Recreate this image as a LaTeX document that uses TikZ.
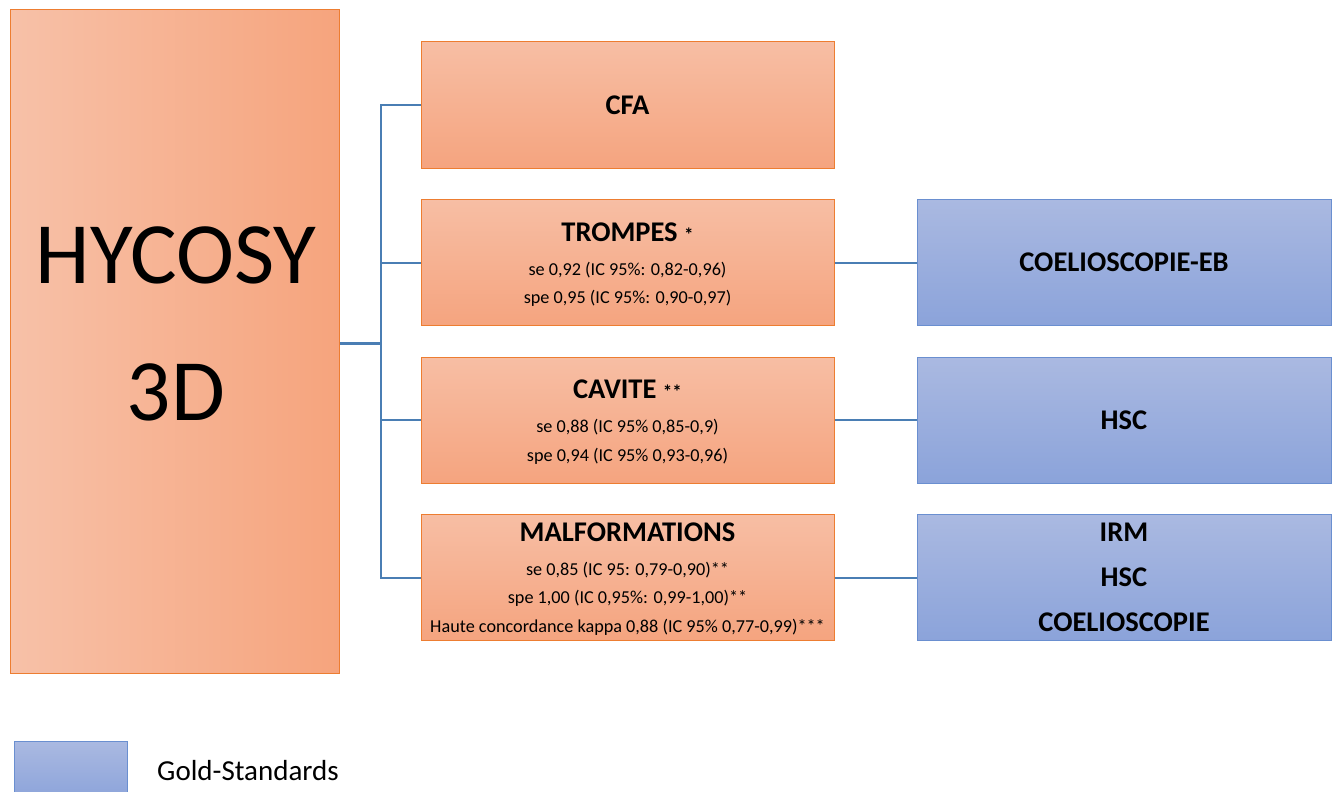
\documentclass[tikz,border=0pt]{standalone}
\usepackage{fontspec}
\setmainfont{Carlito}
\definecolor{oline}{HTML}{ED7D31}
\definecolor{otop}{HTML}{F7BEA4}
\definecolor{obot}{HTML}{F5A47F}
\definecolor{oleft}{HTML}{F7C1A8}
\definecolor{oright}{HTML}{F6A47D}
\definecolor{bline}{HTML}{6A8FD0}
\definecolor{btop}{HTML}{AAB9E1}
\definecolor{bbot}{HTML}{8BA3DA}
\definecolor{conn}{HTML}{4A7EB4}
\tikzset{
  obox/.style={draw=oline, line width=1pt, top color=otop, bottom color=obot, rectangle, inner sep=0pt, minimum width=413pt, minimum height=126pt},
  bbox/.style={draw=bline, line width=1pt, top color=btop, bottom color=bbot, rectangle, inner sep=0pt, minimum width=414pt, minimum height=126pt},
  ttl/.style={font=\fontsize{28.5}{32}\selectfont\bfseries, inner sep=0pt},
  sub/.style={font=\fontsize{18.2}{21}\selectfont, inner sep=0pt},
  cline/.style={draw=conn, line width=2pt},
}
\begin{document}
\begin{tikzpicture}[x=1pt,y=-1pt]
\useasboundingbox (0,0) rectangle (1338,792);
% main box
\node[draw=oline, line width=1pt, left color=oleft, right color=oright, rectangle, inner sep=0pt, minimum width=329pt, minimum height=663pt] (hyc) at (174.5,341.5) {};
\node[font=\fontsize{87.5}{100}\selectfont, inner sep=0pt] (hyct) at (176,255) {HYCOSY};
\node[font=\fontsize{87.5}{100}\selectfont, inner sep=0pt] (hyct2) at (176,392) {3D};
% orange boxes
\node[obox] (cfa) at (627.5,105) {};
\node[obox] (tro) at (627.5,262.5) {};
\node[obox] (cav) at (627.5,420) {};
\node[obox] (mal) at (627.5,577.5) {};
% blue boxes
\node[bbox] (ceb) at (1124,262.5) {};
\node[bbox] (hsc) at (1124,420) {};
\node[bbox] (irm) at (1124,577.5) {};
% texts
\node[ttl] (t1) at (627.5,105) {CFA};
\node[ttl] (t2) at (627.5,232) {TROMPES {\fontsize{19}{21}\selectfont *}};
\node[sub] (t2a) at (627.5,270) {se 0,92 (IC 95\%: 0,82-0,96)};
\node[sub] (t2b) at (627.5,298) {spe 0,95 (IC 95\%: 0,90-0,97)};
\node[ttl] (t3) at (627.5,389) {CAVITE {\fontsize{19}{21}\selectfont **}};
\node[sub] (t3a) at (627.5,427) {se 0,88 (IC 95\% 0,85-0,9)};
\node[sub] (t3b) at (627.5,456) {spe 0,94 (IC 95\% 0,93-0,96)};
\node[ttl] (t4) at (627.5,532) {MALFORMATIONS};
\node[sub] (t4a) at (627.5,570) {se 0,85 (IC 95: 0,79-0,90)**};
\node[sub] (t4b) at (627.5,598) {spe 1,00 (IC 0,95\%: 0,99-1,00)**};
\node[sub] (t4c) at (627.5,627) {Haute concordance kappa 0,88 (IC 95\% 0,77-0,99)***};
\node[ttl] (g1) at (1124,262.5) {COELIOSCOPIE-EB};
\node[ttl] (g2) at (1124,420) {HSC};
\node[ttl] (g3) at (1124,532) {IRM};
\node[ttl] (g4) at (1124,577) {HSC};
\node[ttl] (g5) at (1124,622) {COELIOSCOPIE};
% connectors
\coordinate (trunk) at (381,343);
\draw[cline, line width=3pt] (hyc.east |- trunk) -- (trunk);
\draw[cline] (cfa.west) -| (trunk) |- (mal.west);
\draw[cline] (tro.west) -- (tro.west -| trunk);
\draw[cline] (cav.west) -- (cav.west -| trunk);
\draw[cline] (tro.east) -- (ceb.west);
\draw[cline] (cav.east) -- (hsc.west);
\draw[cline] (mal.east) -- (irm.west);
% legend
\node[draw=bline, line width=1pt, top color=btop, bottom color=bbot!90!btop, rectangle, inner sep=0pt, minimum width=113pt, minimum height=54pt] (leg) at (70.5,768) {};
\node[font=\fontsize{29}{32}\selectfont, anchor=west, inner sep=0pt] (legt) at (157,771) {Gold-Standards};
\end{tikzpicture}
\end{document}
